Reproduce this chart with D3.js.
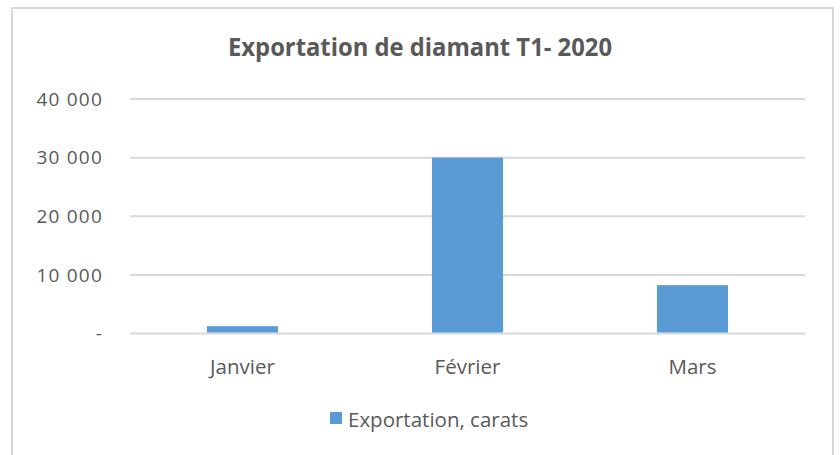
<!DOCTYPE html>
<html>
<head>
<meta charset="utf-8">
<script src="https://cdn.jsdelivr.net/npm/d3@7"></script>
<style>
  body { margin: 0; background: #fff; }
  svg { display: block; }
</style>
</head>
<body>
<svg id="chart" width="840" height="455"></svg>
<script>
// data
const categories = ['Janvier', 'Février', 'Mars']
const exportations = [1250, 30000, 8250]
const yTicks = [0, 10000, 20000, 30000, 40000]
const seriesName = 'Exportation, carats'
const title = 'Exportation de diamant T1- 2020'

const width = 840
const height = 455
const margin = { top: 99, right: 35, bottom: 121, left: 130 }
const BAR = '#5b9bd5'
const TEXT = '#595959'
const GRID = '#d9d9d9'
const FONT = "'Open Sans', sans-serif"

const svg = d3.select('#chart')

// chart frame (no bottom edge in the picture)
svg.append('path')
    .attr('d', 'M12,455 V8 H833 V455')
    .attr('fill', 'none')
    .attr('stroke', GRID)
    .attr('stroke-width', 2)

svg.append('text')
    .attr('x', width / 2)
    .attr('y', 56)
    .attr('text-anchor', 'middle')
    .attr('font-family', FONT)
    .attr('font-weight', 'bold')
    .attr('font-size', 25)
    .attr('textLength', 384)
    .attr('lengthAdjust', 'spacingAndGlyphs')
    .attr('fill', TEXT)
    .text(title)

const x = d3.scaleBand()
    .domain(categories)
    .range([margin.left, width - margin.right])
    .paddingInner(0.684)
    .paddingOuter(0.342)

const y = d3.scaleLinear()
    .domain([0, 40000])
    .range([height - margin.bottom - 0.5, margin.top])

const fmt = (v) => v === 0 ? '-' : d3.format(',')(v).replace(/,/g, ' ')

// gridlines
svg.append('g')
    .selectAll('line')
    .data(yTicks)
    .join('line')
    .attr('x1', margin.left)
    .attr('x2', width - margin.right)
    .attr('y1', (d) => y(d))
    .attr('y2', (d) => y(d))
    .attr('stroke', GRID)
    .attr('stroke-width', 2)

// y labels
svg.append('g')
    .selectAll('text')
    .data(yTicks)
    .join('text')
    .attr('x', 103)
    .attr('y', (d) => y(d))
    .attr('dy', '0.35em')
    .attr('text-anchor', 'end')
    .attr('font-family', FONT)
    .attr('font-size', 19)
    .attr('letter-spacing', 1.2)
    .attr('fill', TEXT)
    .text(fmt)

// bars
svg.append('g')
    .selectAll('rect')
    .data(exportations)
    .join('rect')
    .attr('x', (d, i) => x(categories[i]))
    .attr('width', x.bandwidth())
    .attr('y', (d) => y(d))
    .attr('height', (d) => y(0) - y(d) - 1)
    .attr('fill', BAR)

// x labels
const xAxis = d3.axisBottom(x).tickSize(0).tickPadding(0)
svg.append('g')
    .attr('transform', `translate(0,${y(0)})`)
    .call(xAxis)
    .call((g) => g.select('.domain').remove())
    .selectAll('text')
    .attr('y', 40)
    .attr('dy', 0)
    .attr('font-family', FONT)
    .attr('font-size', 20.5)
    .attr('fill', TEXT)

// legend
const legend = svg.append('g').attr('transform', 'translate(330,420)')
legend.append('rect')
    .attr('x', 0)
    .attr('y', -8)
    .attr('width', 12)
    .attr('height', 12)
    .attr('fill', BAR)
legend.append('text')
    .attr('x', 18)
    .attr('y', 7)
    .attr('font-family', FONT)
    .attr('font-size', 20.5)
    .attr('fill', TEXT)
    .text(seriesName)
</script>
</body>
</html>
